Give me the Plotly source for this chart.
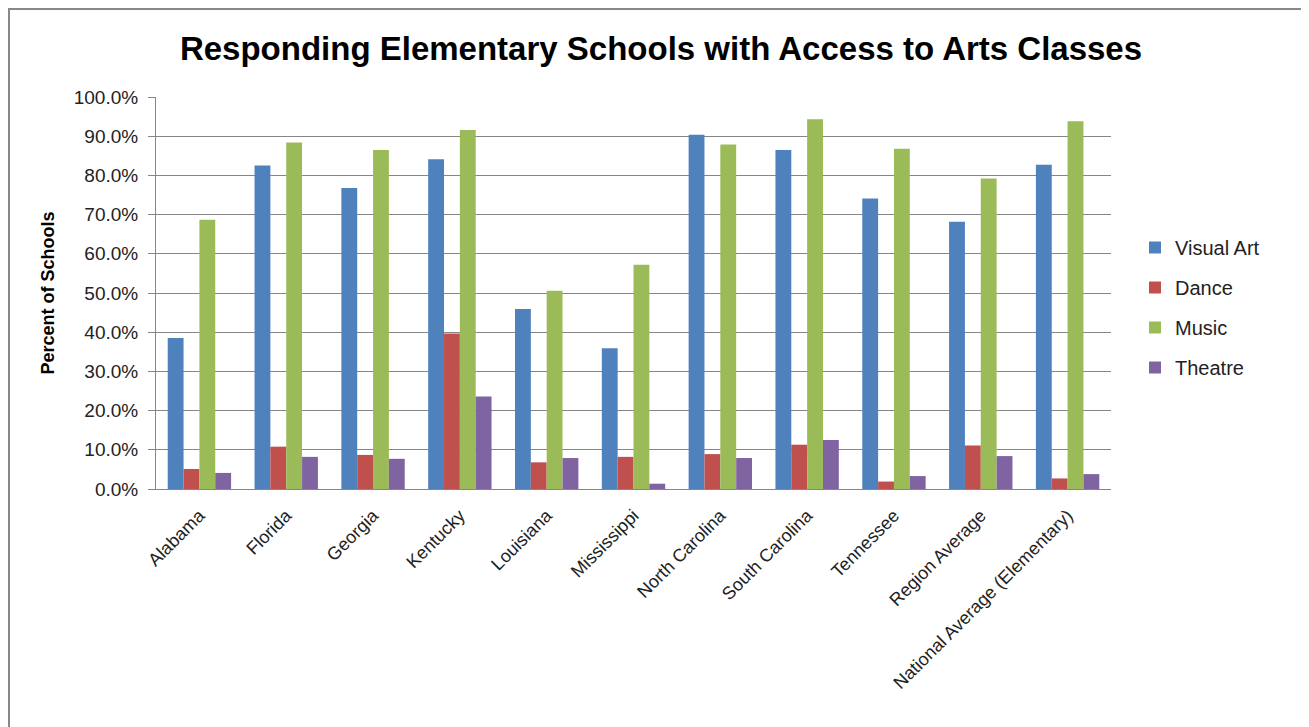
import plotly.graph_objects as go

categories = ["Alabama", "Florida", "Georgia", "Kentucky", "Louisiana", "Mississippi",
              "North Carolina", "South Carolina", "Tennessee", "Region Average",
              "National Average (Elementary)"]
visual_art = [38.5, 82.5, 76.8, 84.1, 45.9, 35.9, 90.4, 86.5, 74.1, 68.2, 82.7]
dance = [5.1, 10.8, 8.7, 39.7, 6.8, 8.2, 8.9, 11.3, 1.9, 11.1, 2.7]
music = [68.7, 88.4, 86.5, 91.6, 50.6, 57.2, 87.9, 94.3, 86.8, 79.2, 93.8]
theatre = [4.1, 8.2, 7.7, 23.6, 7.9, 1.35, 7.9, 12.5, 3.3, 8.4, 3.8]
series_names = ["Visual Art", "Dance", "Music", "Theatre"]
colors = ["#4F81BD", "#C0504D", "#9BBB59", "#8064A2"]

OFF = 8  # page body margin
W, H = 1309 - OFF, 727 - OFF
L, R, T, B = 156 - OFF, 1111 - OFF, 97 - OFF, 489 - OFF
FONT = "Liberation Sans"

fig = go.Figure()
for i, (name, vals) in enumerate(zip(series_names, [visual_art, dance, music, theatre])):
    fig.add_trace(go.Bar(x=categories, y=vals, name=name, marker_color=colors[i],
                         marker_line_width=0, legendgroup=name))

def px(x):
    return (x - OFF - L) / (R - L)

def py(y):
    return (B - (y - OFF)) / (B - T)

fig.add_shape(type="rect", xref="paper", yref="paper",
              x0=px(9), x1=px(1307.5), y0=py(760), y1=py(9),
              line=dict(color="#888888", width=2), fillcolor="rgba(0,0,0,0)", layer="below")

fig.update_layout(
    width=W, height=H,
    margin=dict(l=L, r=W - R, t=T, b=H - B, autoexpand=False),
    paper_bgcolor="white", plot_bgcolor="white",
    barmode="group", bargap=0.27, bargroupgap=0,
    title=dict(text="<b>Responding Elementary Schools with Access to Arts Classes</b>",
               x=px(661), xanchor="center", xref="paper", y=1 - (48 - OFF) / H, yanchor="middle",
               font=dict(family=FONT, size=33, color="black")),
    font=dict(family=FONT, color="#222222"),
    legend=dict(x=px(1135), xanchor="left", y=py(228), yanchor="top",
                font=dict(family=FONT, size=20, color="#222222"),
                traceorder="grouped", tracegroupgap=11,
                bgcolor="rgba(0,0,0,0)"),
    xaxis=dict(tickangle=-45, tickfont=dict(family=FONT, size=18, color="#222222"),
               ticklabelstandoff=8,
               showline=True, linecolor="#868686", linewidth=1, ticks="", showgrid=False),
    yaxis=dict(range=[0, 100], dtick=10, tickformat=".1f", ticksuffix="%",
               tickfont=dict(family=FONT, size=19, color="#222222"),
               ticklabelstandoff=6,
               showgrid=True, gridcolor="#868686", gridwidth=1,
               showline=True, linecolor="#868686", linewidth=1,
               ticks="outside", ticklen=7, tickcolor="#868686",
               title=dict(text="<b>Percent of Schools</b>", standoff=14,
                          font=dict(family=FONT, size=18, color="black"))),
)

fig.write_html("out.html")
